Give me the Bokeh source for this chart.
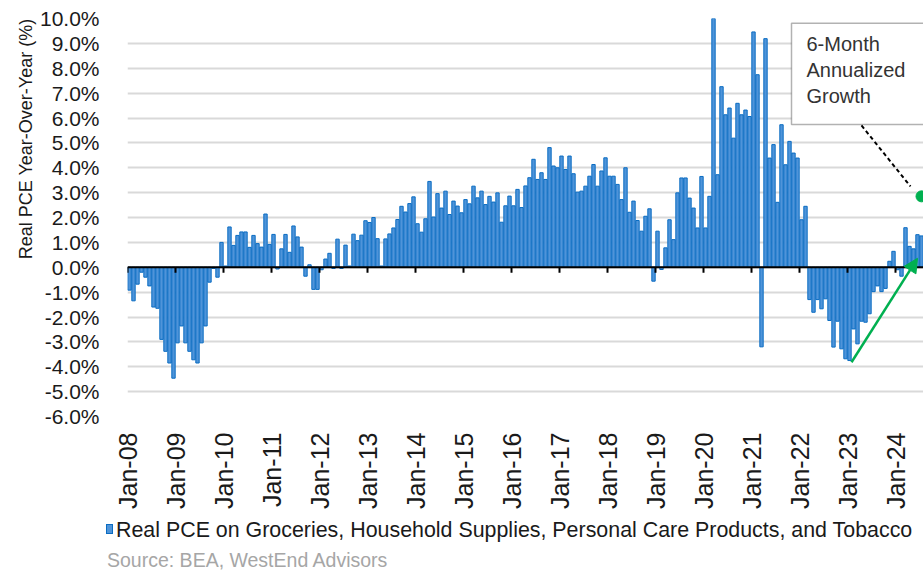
import math
from bokeh.plotting import figure
from bokeh.layouts import column
from bokeh.models import (Range1d, FixedTicker, PrintfTickFormatter, Title, BoxAnnotation,
                          Label, Arrow, NormalHead, ColumnDataSource, Span, Div)
from bokeh.embed import file_html
from bokeh.resources import INLINE

# ---------------- data (YoY %, monthly) ----------------
y2008 = [-0.92, -1.35, -0.68, -0.20, -0.40, -0.75, -1.60, -1.65, -2.90, -3.38, -3.85, -4.46]
y2009 = [-3.04, -2.36, -3.04, -3.38, -3.72, -3.85, -3.04, -2.36, -0.60, -0.05, -0.40, 1.00]
y2010 = [0.05, 1.62, 0.88, 1.28, 1.42, 1.42, 0.80, 1.28, 0.95, 0.81, 2.14, 0.92]
y2011 = [1.32, -0.07, 0.74, 1.32, 0.60, 1.66, 1.22, 0.81, -0.36, 0.10, -0.89, -0.89]
y2012 = [-0.10, 0.33, 0.56, -0.05, 1.13, -0.05, 0.89, 0.05, 1.33, 1.07, 1.29, 1.87]
y2013 = [1.80, 2.00, 1.15, 0.05, 1.14, 1.34, 1.58, 1.92, 2.45, 2.22, 2.56, 2.83]
y2014 = [1.75, 1.41, 1.95, 3.45, 2.02, 2.96, 2.38, 3.06, 2.12, 2.66, 2.46, 2.19]
y2015 = [2.72, 2.55, 3.26, 2.79, 3.06, 2.52, 2.85, 2.62, 2.99, 1.81, 2.47, 2.86]
y2016 = [2.47, 3.13, 2.40, 3.27, 3.60, 4.34, 3.53, 3.80, 3.53, 4.81, 4.07, 4.00]
y2017 = [4.47, 3.93, 4.47, 3.76, 3.02, 3.06, 3.26, 3.66, 4.13, 3.26, 3.87, 4.40]
y2018 = [3.66, 3.66, 3.33, 2.72, 4.00, 2.21, 2.66, 1.88, 1.45, 2.05, 2.35, -0.56]
y2019 = [1.45, -0.09, 0.78, 1.91, 1.11, 2.99, 3.59, 3.59, 2.78, 2.38, 1.58, 3.65]
y2020 = [1.58, 2.85, 12.00, 3.72, 7.26, 6.13, 6.40, 5.19, 6.59, 6.13, 6.32, 6.06]
y2021 = [9.46, 7.74, -3.20, 9.19, 4.39, 4.93, 2.61, 5.73, 4.12, 5.06, 4.59, 4.39]
y2022 = [1.91, 2.45, -1.30, -1.81, -1.30, -1.67, -1.27, -2.14, -3.21, -2.17, -3.28, -3.68]
y2023 = [-3.75, -2.48, -3.08, -2.17, -2.21, -1.87, -0.98, -0.75, -0.98, -0.85, 0.24, 0.64]
y2024 = [-0.10, -0.36, 1.59, 0.84, 0.74, 1.31, 1.26]

growth_6m = 2.85  # 6-month annualized growth (latest)

tick_labels = ["Jan-08", "Jan-09", "Jan-10", "Jan-11", "Jan-12", "Jan-13", "Jan-14",
               "Jan-15", "Jan-16", "Jan-17", "Jan-18", "Jan-19", "Jan-20", "Jan-21",
               "Jan-22", "Jan-23", "Jan-24"]
y_ticks = list(range(-6, 11))

series_label = "Real PCE on Groceries, Household Supplies, Personal Care Products, and Tobacco"
y_title = "Real PCE Year-Over-Year (%)"
source_text = "Source: BEA, WestEnd Advisors"
note_lines = ["6-Month", "Annualized", "Growth"]

# ---------------- build ----------------
values = (y2008 + y2009 + y2010 + y2011 + y2012 + y2013 + y2014 + y2015 + y2016 +
          y2017 + y2018 + y2019 + y2020 + y2021 + y2022 + y2023 + y2024)
n = len(values)
xs = [i + 0.5 for i in range(n)]
x_ticks = [12 * k for k in range(len(tick_labels))]

FONT = "Liberation Sans"
BAR_FILL = "#4F94D9"
BAR_LINE = "#0A6CC2"
TICK_LEN = 0.22  # tick mark length below the zero line (axis units)

W = 923
H_MAIN = 516
H_FOOT = 55

p = figure(width=W, height=H_MAIN, output_backend="svg", toolbar_location=None,
           x_range=Range1d(0, n), y_range=Range1d(-6, 10),
           min_border_left=127, min_border_right=0, min_border_top=18,
           min_border_bottom=H_MAIN - 416, outline_line_color=None)

src = ColumnDataSource(dict(x=xs, top=values))
bars = p.vbar(x="x", top="top", bottom=0, width=0.84, source=src,
              fill_color=BAR_FILL, line_color=BAR_LINE, line_width=1)

# y axis
p.yaxis.ticker = FixedTicker(ticks=y_ticks)
p.yaxis.formatter = PrintfTickFormatter(format="%.1f%%")
p.yaxis.axis_line_color = None
p.yaxis.major_tick_line_color = None
p.yaxis.minor_tick_line_color = None
p.yaxis.major_label_standoff = 22
p.yaxis.major_label_text_font = FONT
p.yaxis.major_label_text_font_size = "21px"
p.yaxis.major_label_text_color = "#1a1a1a"

p.ygrid.ticker = FixedTicker(ticks=y_ticks)
p.ygrid.grid_line_color = "#D9D9D9"
p.ygrid.grid_line_width = 2
p.xgrid.grid_line_color = None

# y title, aligned to the top of the plot
p.add_layout(Title(text=y_title, align="right", text_font=FONT, text_font_size="18px",
                   text_font_style="normal", text_color="#1a1a1a", standoff=2), "left")

# x axis (labels only, at bottom)
p.xaxis.ticker = FixedTicker(ticks=x_ticks)
p.xaxis.major_label_overrides = {t: lab for t, lab in zip(x_ticks, tick_labels)}
p.xaxis.major_label_orientation = math.pi / 2
p.xaxis.axis_line_color = None
p.xaxis.major_tick_line_color = None
p.xaxis.minor_tick_line_color = None
p.xaxis.major_label_standoff = 10
p.xaxis.major_label_text_font = FONT
p.xaxis.major_label_text_font_size = "25px"
p.xaxis.major_label_text_color = "#1a1a1a"

# zero line with tick marks at each January
p.segment(x0=x_ticks, x1=x_ticks, y0=[0] * len(x_ticks), y1=[-TICK_LEN] * len(x_ticks),
          line_color="black", line_width=2)
p.add_layout(Span(location=0, dimension="width", line_color="black", line_width=2))

# annotation box
BOX_LEFT, BOX_RIGHT, BOX_TOP, BOX_BOTTOM = 166.0, 210.0, 9.81, 5.74
p.add_layout(BoxAnnotation(left=BOX_LEFT, right=BOX_RIGHT, top=BOX_TOP, bottom=BOX_BOTTOM,
                           fill_color="white", fill_alpha=1.0, line_color="black",
                           line_width=1.5, level="annotation"))
NOTE_X = 169.75
NOTE_Y = [8.96, 7.91, 6.87]
for txt, yy in zip(note_lines, NOTE_Y):
    p.add_layout(Label(x=NOTE_X, y=yy, text=txt, text_font=FONT, text_font_size="20px",
                       text_color="#333333", text_baseline="middle"))

# dashed leader line from box to dot
p.add_layout(Arrow(end=None, x_start=183.5, y_start=5.7, x_end=195.75, y_end=3.25,
                   line_color="black", line_width=2, line_dash="4 3"))

# green dot: latest 6-month annualized growth
p.scatter(x=[xs[-1]], y=[growth_6m], size=11, color="#00B050")

# green arrow
p.add_layout(Arrow(x_start=181.0, y_start=-3.82, x_end=197.5, y_end=0.36,
                   line_color="#00B050", line_width=2.5,
                   end=NormalHead(size=14, fill_color="#00B050", line_color="#00B050")))

# ---------------- footer: legend key + source ----------------
foot_html = (
    f'<div style="position:relative;width:{W}px;height:{H_FOOT}px;'
    f'font-family:\'{FONT}\';white-space:nowrap;">'
    f'<span style="position:absolute;left:106px;top:8px;width:7px;height:10px;'
    f'background:{BAR_FILL};border:1px solid {BAR_LINE};"></span>'
    f'<span style="position:absolute;left:116px;top:1px;font-size:21.4px;line-height:26px;'
    f'color:#1a1a1a;">{series_label}</span>'
    f'<span style="position:absolute;left:107px;top:34px;font-size:19.5px;line-height:20px;'
    f'color:#A6A6A6;">{source_text}</span>'
    f'</div>'
)
foot = Div(text=foot_html, width=W, height=H_FOOT, margin=0)

layout = column(p, foot, spacing=0)
open("out.html", "w").write(file_html(layout, INLINE))
